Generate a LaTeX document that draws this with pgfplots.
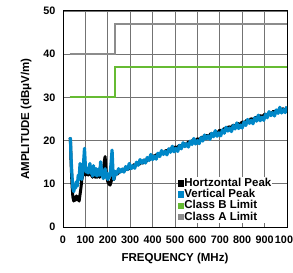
\documentclass[border=0pt]{standalone}
\usepackage{pgfplots}
\pgfplotsset{compat=1.18}
\usepackage{fontspec}
\setmainfont{Liberation Sans}
\definecolor{vblue}{RGB}{0,135,200}
\definecolor{lgreen}{RGB}{102,187,51}
\definecolor{lgray}{RGB}{140,140,140}
\begin{document}
\begin{tikzpicture}
\begin{axis}[
  scale only axis, width=224pt, height=216pt,
  xmin=0, xmax=1000, ymin=0, ymax=50,
  xtick={0,100,...,1000}, ytick={0,10,...,50},
  grid=major, major grid style={black!55, line width=0.9pt},
  axis line style={black, line width=1pt},
  major tick length=0pt,
  /pgf/number format/assume math mode=true,
  /pgf/number format/1000 sep={},
  tick label style={font=\fontsize{10.8}{11}\selectfont\bfseries},
  xticklabel style={yshift=-5pt},
  yticklabel style={xshift=-4pt},
  xlabel={FREQUENCY (MHz)}, ylabel={AMPLITUDE (dBμV/m)},
  label style={font=\fontsize{11.5}{12}\selectfont\bfseries},
  xlabel style={yshift=-3pt},
  ylabel style={yshift=5pt},
  legend style={at={(1,0)}, anchor=south east, xshift=-15pt, yshift=4pt, draw=none, fill=white,
    font=\fontsize{11.5}{11}\selectfont\bfseries, inner sep=0pt, row sep=-0.3pt,
    nodes={inner sep=0.5pt, text height=8.4pt, text depth=2.2pt}},
  legend cell align=left,
  legend image code/.code={\fill[#1] (0pt,-2.7pt) rectangle (5.4pt,2.7pt);},
]
\addplot[lgray, line width=2pt, forget plot] coordinates {(30,40) (230,40) (230,47) (1000,47)};
\addplot[lgreen, line width=2pt, forget plot] coordinates {(30,30) (230,30) (230,37) (1000,37)};
\addplot[black, line width=3pt, forget plot, line join=round] coordinates {
(30,20.3) (33,20.5) (36,15) (40,10) (44,7) (48,6) (52,6.8) (56,6.2) (60,7.2) (64,6.3)
(68,7) (72,6) (76,7.5) (80,9) (84,11) (88,12) (92,12.5) (96,13) (100,12) (104,12.5)
(108,13) (112,12) (116,13) (120,13.5) (124,12) (128,12.5) (132,11.5) (136,13.5) (140,12)
(144,11.5) (148,12.5) (152,11.5) (156,12) (160,12.5) (164,11.5) (168,13) (172,12) (176,12)
(180,13) (184,15) (188,16.3) (192,13) (196,11.5) (200,10.5) (205,10) (210,9.7) (215,10.5)
(220,11.5) (227,11) (236,12.7) (244,12.3) (252,13.0) (260,12.8) (268,13.4) (276,13.1)
(284,13.7) (292,13.4) (300,14.1) (308,13.7) (316,14.4) (324,14.1) (332,14.7) (340,14.5)
(348,15.1) (356,14.8) (364,15.5) (372,15.2) (380,15.9) (388,15.6) (396,16.3) (410,16.5)
(420,16.8) (430,16.8) (440,17.3) (450,17.2) (460,17.7) (470,17.6) (480,18.1) (490,18.0)
(500,18.5) (510,18.4) (520,18.9) (530,18.7) (540,19.3) (550,19.1) (560,19.7) (570,19.5)
(580,20.1) (590,19.9) (600,20.4) (610,20.3) (620,20.8) (630,20.7) (640,21.2) (650,21.0)
(660,21.6) (670,21.4) (680,22.0) (690,21.8) (700,22.4) (710,22.2) (720,22.8) (730,22.6)
(740,23.2) (750,23.0) (760,23.6) (770,23.3) (780,24.0) (790,23.7) (800,24.3) (810,24.1)
(820,24.7) (830,24.4) (840,25.1) (850,24.8) (860,25.4) (870,25.2) (880,25.8) (890,25.5)
(900,26.1) (910,25.9) (920,26.5) (930,26.2) (940,26.8) (950,26.5) (960,27.1) (970,26.8)
(980,27.4) (990,27.1) (1000,27.6)};
\addplot[vblue, line width=3.2pt, forget plot, line join=round] coordinates {
(30,20.3) (33,20.5) (36,16) (40,12) (44,9) (48,8.2) (52,9.5) (56,9) (60,10.5) (64,9.5)
(68,12) (72,11) (76,14.7) (80,12.5) (84,11) (88,13) (92,15) (96,18.2) (100,14) (104,12.7)
(108,13.5) (112,12.5) (116,13.5) (120,14.7) (124,12.5) (128,13) (132,11.8) (136,14.2)
(140,12.5) (144,12) (148,13.5) (152,11.8) (156,12.5) (160,13.5) (164,12) (168,15.1)
(172,13) (176,12) (180,11.2) (184,12.5) (188,13.5) (192,11.5) (196,12.5) (200,11)
(205,11.5) (210,12) (215,15) (219,17.8) (223,13) (227,11)
(232,12.9) (240,12.2) (248,13.5) (256,12.7) (264,13.4) (272,12.7) (280,14.0) (288,13.3)
(296,14.7) (304,13.5) (312,14.2) (320,13.6) (328,15.0) (336,14.3) (344,15.6) (352,14.8)
(360,15.5) (368,14.8) (376,16.1) (384,15.4) (392,16.8) (400,15.6) (408,16.4) (416,15.7)
(424,17.1) (432,16.3) (440,17.7) (448,16.8) (456,17.5) (464,16.7) (472,18.1) (480,17.3)
(488,18.7) (496,17.4) (504,18.2) (512,17.5) (520,18.9) (528,18.1) (536,19.5) (544,18.6)
(552,19.3) (560,18.5) (568,19.9) (576,19.1) (584,20.5) (592,19.2) (600,20.0) (608,19.3)
(616,20.7) (624,19.9) (632,21.3) (640,20.4) (648,21.1) (656,20.3) (664,21.7) (672,20.9)
(680,22.3) (688,21.0) (696,21.8) (704,21.1) (712,22.5) (720,21.7) (728,23.1) (736,22.2)
(744,22.9) (752,22.1) (760,23.5) (768,22.7) (776,24.1) (784,22.8) (792,23.6) (800,22.9)
(808,24.3) (816,23.5) (824,24.9) (832,24.0) (840,24.7) (848,23.9) (856,25.3) (864,24.5)
(872,25.9) (880,24.6) (888,25.4) (896,24.7) (904,26.1) (912,25.3) (920,26.7) (928,25.8)
(936,26.5) (944,25.7) (952,27.1) (960,26.3) (968,27.7) (976,26.4) (984,27.2) (992,26.5)
(1000,27.9)};
\addlegendimage{black}\addlegendentry{Hortzontal Peak}
\addlegendimage{vblue}\addlegendentry{Vertical Peak}
\addlegendimage{lgreen}\addlegendentry{Class B Limit}
\addlegendimage{lgray}\addlegendentry{Class A Limit}
\coordinate (sw) at (rel axis cs:0,0);
\coordinate (ne) at (rel axis cs:1,1);
\end{axis}
\pgfresetboundingbox
\path[use as bounding box] ([xshift=-63pt,yshift=-45pt]sw) rectangle ([xshift=6pt,yshift=11pt]ne);
\end{tikzpicture}
\end{document}
